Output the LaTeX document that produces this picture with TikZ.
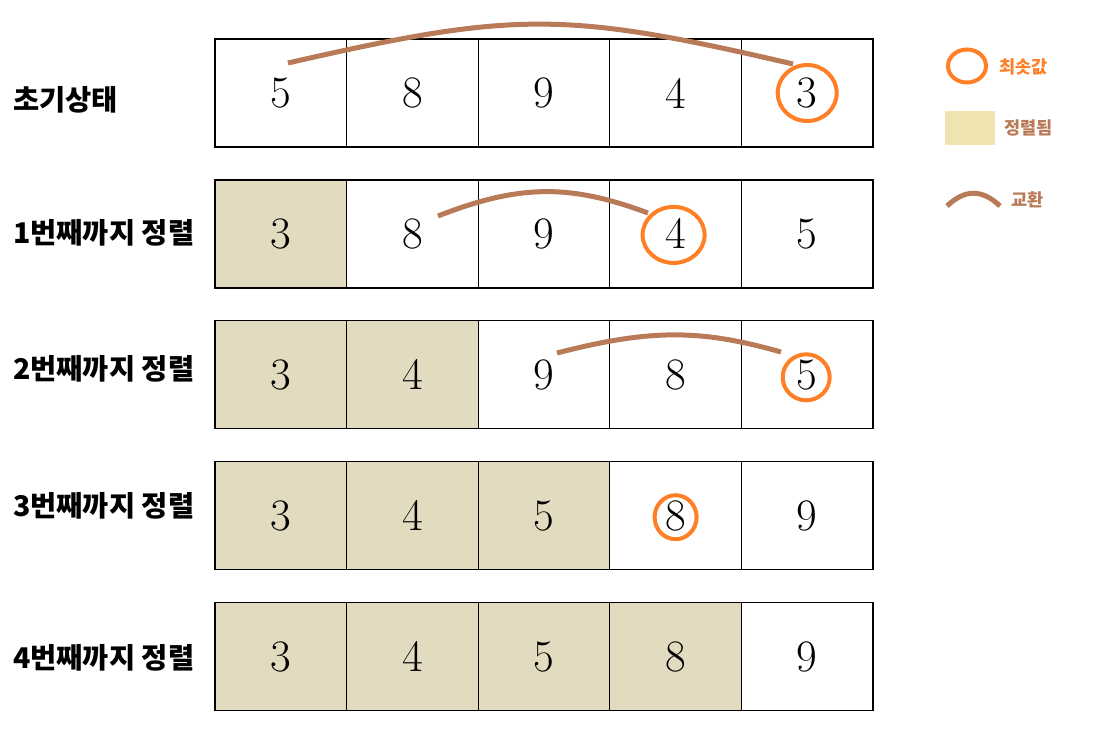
\documentclass[tikz,border=0pt]{standalone}
\usepackage{fontspec}
\usepackage{xcolor}
\usepackage{tikz}
\usetikzlibrary{calc}
\newfontfamily\kr{Noto Sans CJK KR}
\definecolor{pickorange}{RGB}{255,127,39}
\definecolor{swapbrown}{RGB}{185,122,87}
\definecolor{donefill}{RGB}{226,219,192}
\definecolor{keyfill}{RGB}{239,228,176}

\begin{document}
\begin{tikzpicture}[x=1pt, y=-1pt,
    cell/.style={draw, line width=1.3pt, minimum width=131.6pt, minimum height=108pt,
                 inner sep=0pt, font=\fontsize{45}{50}\selectfont},
    done/.style={cell, fill=donefill},
    pick/.style={draw=pickorange, line width=4pt},
    swap/.style={draw=swapbrown, line width=5pt},
    rowlabel/.style={anchor=west, inner sep=0pt, font=\kr\bfseries\fontsize{28.5}{32}\selectfont},
    keytext/.style={anchor=west, inner sep=0pt, font=\kr\bfseries\fontsize{17.5}{20}\selectfont}]
    \useasboundingbox (0,0) rectangle (1093,753);

    % rows of the array, one per step
    \foreach \r/\vals/\txt/\ly in {0/{5,8,9,4,3}/초기상태/100,
                                   1/{3,8,9,4,5}/1번째까지 정렬/233,
                                   2/{3,4,9,8,5}/2번째까지 정렬/369,
                                   3/{3,4,5,8,9}/3번째까지 정렬/506,
                                   4/{3,4,5,8,9}/4번째까지 정렬/658}{
        \node[rowlabel] (lab\r) at (13,\ly) {\txt};
        \foreach \v [count=\c from 0] in \vals {
            \ifnum\c<\r
                \node[done] (c\r\c) at (280.8+131.6*\c, 93+140.9*\r) {\v};
            \else
                \node[cell] (c\r\c) at (280.8+131.6*\c, 93+140.9*\r) {\v};
            \fi
        }
    }

    % minimum of each pass
    \draw[pick] (c04) ellipse [x radius=29.5, y radius=28];
    \draw[pick] ($(c13)+(-2,1)$) ellipse [x radius=31, y radius=28];
    \draw[pick] ($(c24)+(-1,2.5)$) ellipse [x radius=23.5, y radius=23];
    \draw[pick] ($(c33)+(0,1.5)$) ellipse [x radius=21, y radius=22];

    % swaps
    \coordinate (s0a) at (288,63);  \coordinate (s0b) at (793,64);
    \coordinate (s1a) at (438,216); \coordinate (s1b) at (648,213);
    \coordinate (s2a) at (557,353); \coordinate (s2b) at (781,352);
    \draw[swap] (s0a) .. controls (515,11) and (565,11) .. (s0b);
    \draw[swap] (s1a) .. controls (520,184) and (570,184) .. (s1b);
    \draw[swap] (s2a) .. controls (650,329) and (700,329) .. (s2b);

    % legend
    \draw[pick] (967,66) ellipse [x radius=19, y radius=16.5];
    \node[keytext, text=pickorange] (k1) at (999,67) {최솟값};
    \fill[keyfill] (945,111) rectangle (995,145);
    \node[keytext, text=swapbrown] (k2) at (1004,128) {정렬됨};
    \coordinate (k3a) at (947,206); \coordinate (k3b) at (1000,206);
    \draw[swap] (k3a) .. controls (965,189) and (982,189) .. (k3b);
    \node[keytext, text=swapbrown] (k3) at (1011,200) {교환};
\end{tikzpicture}
\end{document}
